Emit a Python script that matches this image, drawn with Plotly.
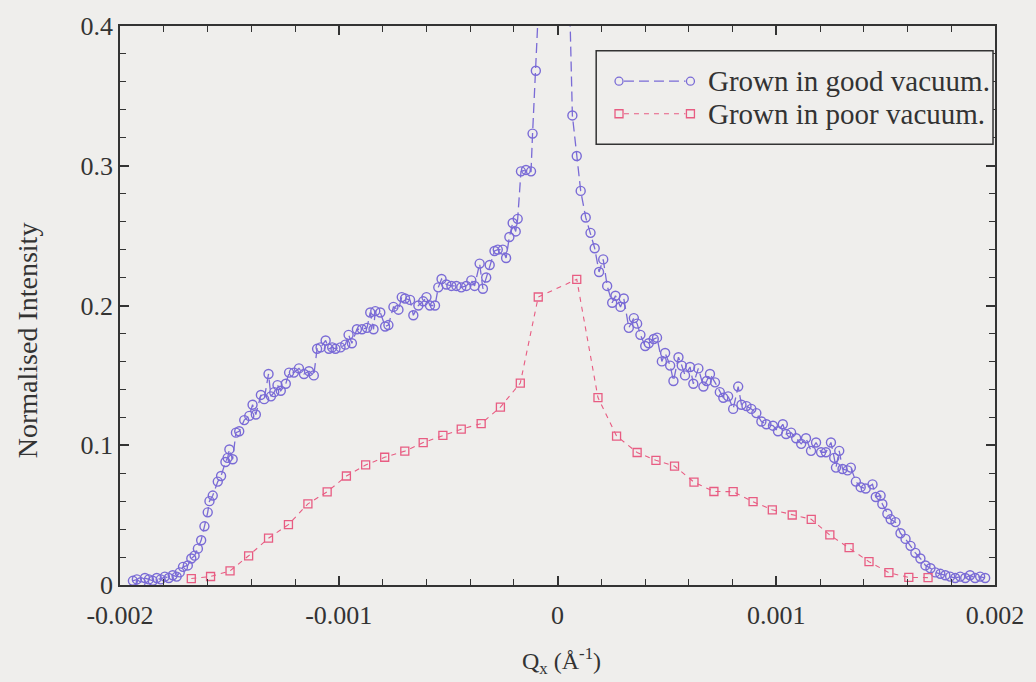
import plotly.graph_objects as go

# ---------------- data ----------------
qx_good = [
    -1.941e-3, -1.923e-3, -1.905e-3, -1.886e-3, -1.868e-3, -1.850e-3, -1.832e-3, -1.814e-3,
    -1.795e-3, -1.777e-3, -1.759e-3, -1.741e-3, -1.727e-3, -1.712e-3, -1.690e-3, -1.674e-3,
    -1.659e-3, -1.644e-3, -1.629e-3, -1.614e-3, -1.599e-3, -1.591e-3, -1.576e-3, -1.553e-3,
    -1.538e-3, -1.518e-3, -1.508e-3, -1.500e-3, -1.485e-3, -1.470e-3, -1.455e-3, -1.432e-3,
    -1.409e-3, -1.394e-3, -1.379e-3, -1.356e-3, -1.341e-3, -1.321e-3, -1.310e-3, -1.295e-3,
    -1.280e-3, -1.265e-3, -1.242e-3, -1.227e-3, -1.205e-3, -1.182e-3, -1.159e-3, -1.136e-3,
    -1.114e-3, -1.099e-3, -1.083e-3, -1.060e-3, -1.045e-3, -1.030e-3, -1.015e-3, -0.992e-3,
    -0.970e-3, -0.955e-3, -0.940e-3, -0.917e-3, -0.894e-3, -0.871e-3, -0.856e-3, -0.841e-3,
    -0.833e-3, -0.810e-3, -0.788e-3, -0.773e-3, -0.750e-3, -0.727e-3, -0.712e-3, -0.697e-3,
    -0.674e-3, -0.659e-3, -0.636e-3, -0.614e-3, -0.599e-3, -0.583e-3, -0.560e-3, -0.545e-3,
    -0.530e-3, -0.508e-3, -0.485e-3, -0.462e-3, -0.440e-3, -0.417e-3, -0.394e-3, -0.379e-3,
    -0.356e-3, -0.341e-3, -0.326e-3, -0.310e-3, -0.288e-3, -0.273e-3, -0.250e-3, -0.235e-3,
    -0.220e-3, -0.205e-3, -0.191e-3, -0.182e-3, -0.167e-3, -0.144e-3, -0.121e-3, -0.114e-3,
    -0.099e-3, -0.082e-3, -0.064e-3, -0.045e-3, -0.023e-3, 0.0, 0.023e-3, 0.041e-3,
    0.055e-3, 0.068e-3, 0.088e-3, 0.106e-3, 0.129e-3, 0.151e-3, 0.170e-3, 0.190e-3,
    0.209e-3, 0.227e-3, 0.250e-3, 0.265e-3, 0.288e-3, 0.303e-3, 0.326e-3, 0.349e-3,
    0.364e-3, 0.379e-3, 0.401e-3, 0.417e-3, 0.440e-3, 0.455e-3, 0.477e-3, 0.492e-3,
    0.515e-3, 0.530e-3, 0.553e-3, 0.568e-3, 0.583e-3, 0.606e-3, 0.621e-3, 0.644e-3,
    0.667e-3, 0.682e-3, 0.697e-3, 0.720e-3, 0.742e-3, 0.758e-3, 0.780e-3, 0.803e-3,
    0.826e-3, 0.841e-3, 0.864e-3, 0.886e-3, 0.909e-3, 0.932e-3, 0.955e-3, 0.985e-3,
    1.008e-3, 1.030e-3, 1.045e-3, 1.068e-3, 1.091e-3, 1.114e-3, 1.136e-3, 1.159e-3,
    1.182e-3, 1.205e-3, 1.227e-3, 1.250e-3, 1.265e-3, 1.273e-3, 1.288e-3, 1.303e-3,
    1.326e-3, 1.341e-3, 1.364e-3, 1.386e-3, 1.409e-3, 1.440e-3, 1.455e-3, 1.477e-3,
    1.485e-3, 1.508e-3, 1.523e-3, 1.545e-3, 1.568e-3, 1.591e-3, 1.614e-3, 1.636e-3,
    1.659e-3, 1.682e-3, 1.705e-3, 1.727e-3, 1.750e-3, 1.773e-3, 1.795e-3, 1.818e-3,
    1.841e-3, 1.864e-3, 1.886e-3, 1.909e-3, 1.932e-3, 1.955e-3,
]
intensity_good = [
    0.003, 0.004, 0.002, 0.005, 0.004, 0.003, 0.005, 0.004,
    0.006, 0.005, 0.007, 0.006, 0.009, 0.013, 0.014, 0.019,
    0.021, 0.026, 0.032, 0.042, 0.052, 0.060, 0.064, 0.074,
    0.078, 0.088, 0.091, 0.097, 0.090, 0.109, 0.110, 0.118,
    0.121, 0.129, 0.122, 0.136, 0.133, 0.151, 0.135, 0.138,
    0.143, 0.139, 0.144, 0.152, 0.152, 0.155, 0.151, 0.153,
    0.150, 0.169, 0.170, 0.175, 0.169, 0.170, 0.169, 0.170,
    0.172, 0.179, 0.173, 0.183, 0.183, 0.184, 0.195, 0.183,
    0.196, 0.195, 0.185, 0.186, 0.199, 0.197, 0.206, 0.205,
    0.204, 0.193, 0.200, 0.203, 0.206, 0.200, 0.200, 0.213,
    0.219, 0.215, 0.214, 0.214, 0.213, 0.214, 0.218, 0.214,
    0.230, 0.212, 0.220, 0.229, 0.239, 0.240, 0.240, 0.234,
    0.249, 0.259, 0.253, 0.262, 0.296, 0.297, 0.296, 0.323,
    0.368, 0.43, 0.55, 0.72, 0.90, 1.00, 0.85, 0.60,
    0.42, 0.336, 0.307, 0.282, 0.263, 0.252, 0.241, 0.224,
    0.233, 0.214, 0.202, 0.207, 0.199, 0.205, 0.184, 0.191,
    0.187, 0.179, 0.171, 0.173, 0.176, 0.177, 0.160, 0.166,
    0.157, 0.146, 0.163, 0.157, 0.150, 0.156, 0.144, 0.155,
    0.142, 0.146, 0.151, 0.145, 0.138, 0.134, 0.135, 0.126,
    0.142, 0.129, 0.128, 0.126, 0.123, 0.117, 0.115, 0.114,
    0.110, 0.115, 0.108, 0.109, 0.105, 0.101, 0.105, 0.096,
    0.102, 0.095, 0.095, 0.102, 0.091, 0.084, 0.096, 0.083,
    0.082, 0.084, 0.074, 0.070, 0.069, 0.072, 0.063, 0.064,
    0.058, 0.051, 0.047, 0.045, 0.037, 0.033, 0.028, 0.023,
    0.019, 0.014, 0.012, 0.009, 0.008, 0.007, 0.006, 0.005,
    0.006, 0.005, 0.007, 0.005, 0.006, 0.005,
]

qx_poor = [
    -1.674e-3, -1.586e-3, -1.497e-3, -1.412e-3, -1.321e-3, -1.230e-3, -1.141e-3, -1.053e-3,
    -0.965e-3, -0.877e-3, -0.790e-3, -0.698e-3, -0.614e-3, -0.524e-3, -0.440e-3, -0.349e-3,
    -0.261e-3, -0.170e-3, -0.088e-3,
    0.088e-3, 0.185e-3, 0.270e-3, 0.364e-3, 0.450e-3, 0.535e-3, 0.624e-3, 0.715e-3,
    0.803e-3, 0.894e-3, 0.982e-3, 1.073e-3, 1.160e-3, 1.245e-3, 1.333e-3, 1.424e-3,
    1.515e-3, 1.606e-3, 1.694e-3,
]
intensity_poor = [
    0.0046, 0.0061, 0.0101, 0.0209, 0.0335, 0.0432, 0.0581, 0.0667,
    0.0780, 0.0859, 0.0914, 0.0958, 0.1019, 0.1071, 0.1115, 0.1155,
    0.1273, 0.1445, 0.2061,
    0.2187, 0.1341, 0.1066, 0.0948, 0.0892, 0.0851, 0.0736, 0.0669,
    0.0668, 0.0596, 0.0538, 0.0501, 0.0470, 0.0358, 0.0267, 0.0167,
    0.0088, 0.0054, 0.0053,
]

x_tick_values = [-0.002, -0.001, 0, 0.001, 0.002]
x_tick_labels = ["-0.002", "-0.001", "0", "0.001", "0.002"]
y_tick_values = [0, 0.1, 0.2, 0.3, 0.4]
y_tick_labels = ["0", "0.1", "0.2", "0.3", "0.4"]
series_names = ["Grown in good vacuum.", "Grown in poor vacuum."]
x_title = "Q<sub>x</sub> (Å<sup>-1</sup>)"
y_title = "Normalised Intensity"

# ---------------- styles ----------------
PURPLE = "#7a6bd6"
PINK = "#e85c82"
BG = "#efeeec"
INK = "#333333"
FONT = "Liberation Serif"

W, H = 1036, 682
ML, MR, MT, MB = 120, 34, 18, 97
PW, PH = W - ML - MR, H - MT - MB


def px_x(p):
    return (p - ML) / PW


def px_y(p):
    return (H - MB - p) / PH


fig = go.Figure()
fig.add_trace(go.Scatter(
    x=qx_good, y=intensity_good, mode="lines+markers", name=series_names[0],
    line=dict(color=PURPLE, width=1.3, dash="10px,5px"),
    marker=dict(symbol="circle-open", size=9, color=PURPLE, line=dict(width=1.4, color=PURPLE)),
    showlegend=False, cliponaxis=True,
))
fig.add_trace(go.Scatter(
    x=qx_poor, y=intensity_poor, mode="lines+markers", name=series_names[1],
    line=dict(color=PINK, width=1.1, dash="5px,5px"),
    marker=dict(symbol="square-open", size=8, color=PINK, line=dict(width=1.3, color=PINK)),
    showlegend=False, cliponaxis=True,
))

axis_common = dict(
    ticks="inside", ticklen=9, tickwidth=1.5, tickcolor=INK,
    showline=True, linecolor=INK, linewidth=1.6, mirror="allticks",
    showgrid=False, zeroline=False,
    tickfont=dict(family=FONT, size=26, color=INK),
)

fig.update_layout(
    width=W, height=H,
    margin=dict(l=ML, r=MR, t=MT, b=MB),
    paper_bgcolor=BG, plot_bgcolor=BG,
    xaxis=dict(
        range=[-0.002, 0.002], tickmode="array", tickvals=x_tick_values, ticktext=x_tick_labels,
        minor=dict(tickmode="linear", tick0=0, dtick=0.0002, ticks="inside", ticklen=6,
                   tickwidth=1.2, tickcolor=INK, showgrid=False),
        ticklabelstandoff=6,
        **axis_common,
    ),
    yaxis=dict(
        range=[0, 0.4], tickmode="array", tickvals=y_tick_values, ticktext=y_tick_labels,
        minor=dict(tickmode="linear", tick0=0, dtick=0.02, ticks="inside", ticklen=6,
                   tickwidth=1.2, tickcolor=INK, showgrid=False),
        **axis_common,
    ),
    showlegend=False,
)

# axis titles
fig.add_annotation(text=y_title, xref="paper", yref="paper", x=px_x(27), y=px_y(337),
                   textangle=-90, showarrow=False, xanchor="center", yanchor="middle",
                   font=dict(family=FONT, size=28, color=INK))
fig.add_annotation(text=x_title, xref="paper", yref="paper", x=px_x(565), y=px_y(662),
                   showarrow=False, xanchor="center", yanchor="middle",
                   font=dict(family=FONT, size=24, color=INK))

# legend box (drawn manually to show marker - dashed line - marker)
fig.add_shape(type="rect", xref="paper", yref="paper",
              x0=px_x(600), x1=px_x(1000), y0=px_y(138), y1=px_y(43),
              line=dict(color=INK, width=1.5), fillcolor=BG, layer="above")

rows = [(74, PURPLE, "circle", "10px,5px", series_names[0]),
        (107, PINK, "rect", "5px,5px", series_names[1])]
for ry, col, shp, dash, label in rows:
    fig.add_shape(type="line", xref="paper", yref="paper",
                  x0=px_x(628), x1=px_x(690), y0=px_y(ry), y1=px_y(ry),
                  line=dict(color=col, width=1.2, dash=dash), layer="above")
    for mx in (623, 695):
        fig.add_shape(type=shp, xref="paper", yref="paper",
                      xsizemode="pixel", ysizemode="pixel",
                      xanchor=px_x(mx), yanchor=px_y(ry),
                      x0=-4, x1=4, y0=-4, y1=4,
                      line=dict(color=col, width=1.3), fillcolor=BG, layer="above")
    fig.add_annotation(text=label, xref="paper", yref="paper", x=px_x(711), y=px_y(ry),
                       showarrow=False, xanchor="left", yanchor="middle",
                       font=dict(family=FONT, size=29, color=INK))

fig.write_html("out.html")
